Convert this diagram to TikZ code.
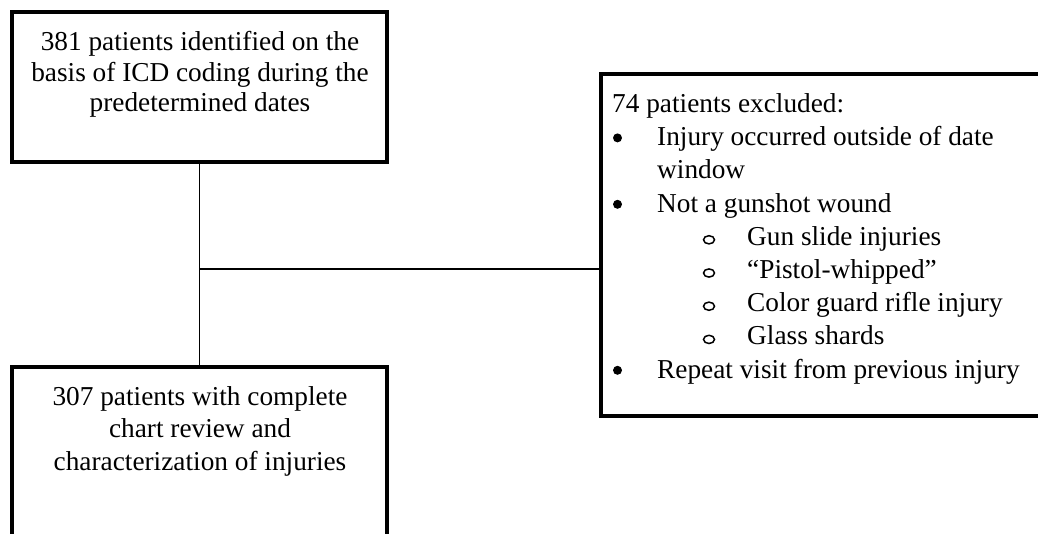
\documentclass[tikz,border=0pt]{standalone}
\usepackage{fontspec}
\setmainfont{Liberation Serif}
\begin{document}
\begin{tikzpicture}[x=1pt,y=-1pt,
  box/.style={draw=black, line width=3.8pt, minimum width=375pt, inner sep=0pt},
  conn/.style={draw=black, line width=1.8pt},
  txt/.style={inner sep=0pt, font=\fontsize{27.3}{30.5}\selectfont},
  txtb/.style={inner sep=0pt, font=\fontsize{27.3}{32.5}\selectfont},
  lst/.style={inner sep=0pt, align=left, font=\fontsize{27.3}{33.2}\selectfont},
  dotmark/.style={fill=black, draw=none},
  ringmark/.style={draw=black, line width=1.5pt}]
\useasboundingbox (0,0) rectangle (1038,533);
% boxes
\node[box, minimum height=150pt] (top) at (199.5,87) {};
\node[box, minimum height=173pt] (bot) at (199.5,453.5) {};
\node[box, minimum width=444pt, minimum height=342pt] (excl) at (823,245) {};
% texts
\node[txt, align=center, anchor=north] (toptext) at (200,31.2)
  {381 patients identified on the\\basis of ICD coding during the\\predetermined dates};
\node[txtb, align=center, anchor=north] (bottext) at (200,386.2)
  {307 patients with complete\\chart review and\\characterization of injuries};
\node[lst, anchor=north west] (excltext) at (612,93.4)
  {74 patients excluded:\\
   \hspace{45pt}Injury occurred outside of date\\
   \hspace{45pt}window\\
   \hspace{45pt}Not a gunshot wound\\
   \hspace{135pt}Gun slide injuries\\
   \hspace{135pt}“Pistol-whipped”\\
   \hspace{135pt}Color guard rifle injury\\
   \hspace{135pt}Glass shards\\
   \hspace{45pt}Repeat visit from previous injury};
% list markers
\foreach \k in {1,3,8}
  \fill[dotmark] ([shift={(5.5,18.5+33.2*\k-7.2)}]excltext.north west) circle (4.5pt);
\foreach \k in {4,5,6,7}
  \draw[ringmark] ([shift={(97,18.5+33.2*\k-4.9)}]excltext.north west) ellipse (5.5pt and 4.1pt);
% connectors
\draw[conn] (top.south) -- (bot.north);
\coordinate (jj) at (top.south |- 0,269);
\draw[conn] (jj) -- (jj -| excl.west);
\end{tikzpicture}
\end{document}
